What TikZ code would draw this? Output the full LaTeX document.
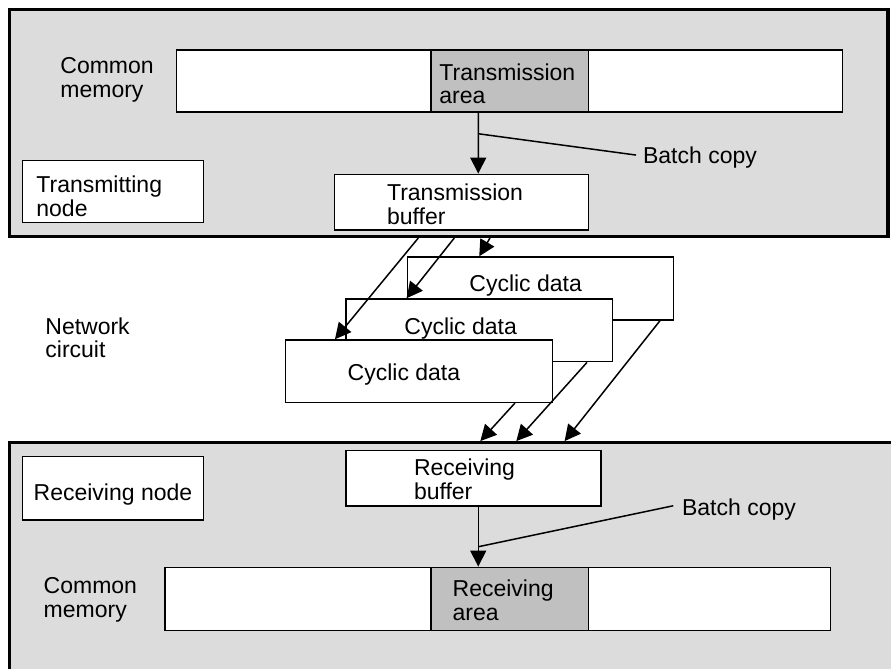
\documentclass[tikz,border=0pt]{standalone}
\usepackage{fontspec}
\setmainfont{Liberation Sans}
\usetikzlibrary{arrows.meta,fit,calc}
\definecolor{panelgray}{RGB}{220,220,220}
\definecolor{areagray}{RGB}{192,192,192}
\newcommand\twoln[2]{\vtop{\hbox{#1}\hbox{#2}}}
\begin{document}
\begin{tikzpicture}[x=0.5pt,y=-0.5pt,
  every node/.style={font=\fontsize{11.5}{12}\selectfont},
  box/.style={draw, line width=0.75pt, fill=white, inner sep=0pt},
  areabox/.style={box, fill=areagray},
  panelbox/.style={draw, fill=panelgray, line width=1.6pt, inner sep=0pt},
  lbl/.style={anchor=base west, inner sep=0pt},
  arr/.style={line width=0.75pt, -{Triangle[length=8pt,width=8pt]}},
  lead/.style={line width=0.75pt}]
\useasboundingbox (0,0) rectangle (891,669);
\clip (0,0) rectangle (891,669);
\fill[white] (0,0) rectangle (891,669);

% transmitting side panel
\node[panelbox, fit={(9.5,9.5) (888,236.5)}] (tx) {};
% receiving side panel (cut off at right and bottom)
\node[fill=panelgray, inner sep=0pt, fit={(9.5,443) (905,700)}] (rx) {};
\draw[line width=1.6pt] (rx.south west) -- (rx.north west) -- (rx.north east);

% top common memory
\node[box, fit={(176.7,50) (842.7,112)}] (tmem) {};
\node[areabox, fit={(431,50) (588.3,112)}] (tarea) {};
\node[box, fit={(22.3,160.7) (203.7,222.7)}] (tnode) {};
\node[box, fit={(334.3,174.3) (588.3,230)}] (tbuf) {};

\node[lbl] (tmemlbl) at (60,74) {\twoln{Common}{memory}};
\node[lbl] (tarealbl) at (439,80) {\twoln{Transmission}{area}};
\node[lbl] (tnodelbl) at (36,192) {\twoln{Transmitting}{node}};
\node[lbl] (tbuflbl) at (386.7,200) {\twoln{Transmission}{buffer}};
\node[lbl] (bct) at (642.7,163) {Batch copy};

\draw[arr] ($(tarea.south west)+(48,0)$) -- ($(tbuf.north west)+(144.7,0)$);
\coordinate (bctop) at ($(tarea.south west)+(48,21)$);
\draw[lead] (bctop) -- ($(bct.west)+(-6.7,-2)$);

% network circuit
\node[lbl] (netlbl) at (45,334) {\twoln{Network}{circuit}};
\node[box, fit={(407.3,257) (673.3,320)}] (cy1) {};
\node[lbl] at (469,291) {Cyclic data};
\node[box, fit={(346,299) (612.7,361.7)}] (cy2) {};
\node[lbl] at (404,334) {Cyclic data};
\node[box, fit={(285.7,340) (552.3,402.3)}] (cy3) {};
\node[lbl] at (347.3,380) {Cyclic data};

\coordinate (sa) at (418.3,238);
\coordinate (sb) at (454.3,238);
\coordinate (sc) at (490,238);
\draw[arr] (sa) -- ($(cy3.north west)+(50,0)$);
\draw[arr] (sb) -- ($(cy2.north west)+(61.3,0)$);
\draw[arr] (sc) -- ($(cy1.north west)+(72.7,0)$);

\draw[arr] ($(cy3.south west)+(230,0)$) -- ($(rx.north west)+(471.2,-1.5)$);
\draw[arr] ($(cy2.south west)+(241.7,0)$) -- ($(rx.north west)+(507.2,-1.5)$);
\draw[arr] ($(cy1.south west)+(253.4,0)$) -- ($(rx.north west)+(555.5,-1.5)$);

% receiving side
\node[box, fit={(22.3,456.7) (203.7,520)}] (rnode) {};
\node[lbl] (rnodelbl) at (33.3,500) {Receiving node};
\node[box, fit={(346,450.7) (601,506)}] (rbuf) {};
\node[lbl] (rbuflbl) at (413.6,475) {\twoln{Receiving}{buffer}};
\node[box, fit={(165,567.3) (830.7,630.7)}] (rmem) {};
\node[areabox, fit={(431,567.3) (588.3,630.7)}] (rarea) {};
\node[lbl] (rarealbl) at (452.3,596) {\twoln{Receiving}{area}};
\node[lbl] (rmemlbl) at (43.3,593) {\twoln{Common}{memory}};
\node[lbl] (bcb) at (681.7,515) {Batch copy};

\draw[arr] ($(rbuf.south west)+(133,0)$) -- ($(rarea.north west)+(48,0)$);
\coordinate (bcbot) at ($(rbuf.south west)+(133,40)$);
\draw[lead] (bcbot) -- ($(bcb.west)+(-8.4,-3.3)$);
\end{tikzpicture}
\end{document}
